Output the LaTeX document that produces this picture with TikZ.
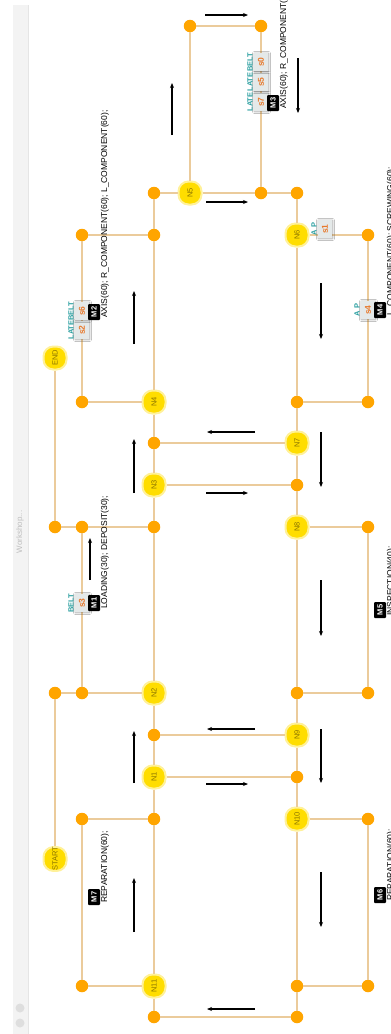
\documentclass[tikz,border=0pt]{standalone}
\usepackage{fontspec}
\setmainfont{Liberation Sans}
\usetikzlibrary{arrows.meta,shadows.blur}
\definecolor{edgetan}{HTML}{EBCB9B}
\definecolor{dotorange}{HTML}{FFA500}
\definecolor{nodeyellow}{HTML}{FFDD00}
\definecolor{nodetext}{HTML}{8A7400}
\definecolor{capteal}{HTML}{2A9FA0}
\definecolor{tagorange}{HTML}{E8792C}
\definecolor{taggray}{HTML}{E4E9E9}
\definecolor{panelgray}{HTML}{F3F3F3}
\newcommand{\machinetag}[5]{%
  \node[mbox] (#1) at (#2+12,#3) {#4};
  \node[optext] (#1-ops) at (#2+23,#3+6) {#5};}
\newcommand{\slottag}[5]{%
  \node[sbox] (#1) at (#2,#3) {#4};
  \node[scap] (#1-cap) at (#2-11,#3) {#5};}
\begin{document}
\begin{tikzpicture}[x=1pt,y=-1pt,
    link/.style={draw=edgetan,line width=1.2pt},
    dot/.style={circle,fill=dotorange,minimum size=12.5pt,inner sep=0pt},
    ynode/.style={rectangle,rounded corners=10pt,minimum size=23pt,inner sep=0pt,
      fill=nodeyellow,draw=nodeyellow!40,line width=2pt,text=nodetext,
      font=\fontsize{7.5}{7.5}\selectfont,rotate=90},
    mbox/.style={rectangle,rounded corners=1pt,fill=black,text=white,
      minimum width=16pt,minimum height=12pt,inner sep=0pt,
      font=\bfseries\fontsize{7.5}{7.5}\selectfont,rotate=90},
    sbox/.style={rectangle,fill=taggray,text=tagorange,minimum width=18pt,
      minimum height=14pt,inner sep=0pt,font=\bfseries\fontsize{8.5}{8.5}\selectfont,
      rotate=90,blur shadow={shadow xshift=0.5pt,shadow yshift=-0.5pt,
      shadow blur radius=2pt,shadow opacity=40}},
    scap/.style={text=capteal,inner sep=0pt,font=\bfseries\fontsize{7.5}{7.5}\selectfont,rotate=90},
    optext/.style={anchor=west,inner sep=0pt,text=black,
      font=\fontsize{8.5}{8.5}\selectfont,rotate=90},
    flow/.style={-{Stealth[length=5pt,width=4pt]},line width=1.1pt}]
  \clip (0,0) rectangle (391,1034);
  \fill[white] (0,0) rectangle (391,1034);
  % side panel
  \fill[panelgray] (13,5) rectangle (28,1034);
  \draw[black!10] (28,5) -- (28,1034);
  \node[rotate=90,text=black!25,font=\fontsize{8}{8}\selectfont] (ws) at (20,532) {Workshop...};
  \fill[black!13] (20,1008) circle (4.5) (20,1023) circle (4.5);
  % junctions
  \foreach \n/\x/\y in {ta/190/26,tb/261/26,ua/154/193,ub/261/193,uc/297/193,%
    va/82/235,vb/154/235,vc/368/235,wa/82/402,wb/297/402,wc/368/402,%
    xa/154/443,xb/297/485,ya/55/527,yb/82/527,yc/154/527,yd/368/527,%
    za/55/693,zb/82/693,zc/297/693,zd/368/693,ka/154/735,kb/297/777,%
    la/82/819,lb/154/819,lc/368/819,ma/82/986,mb/297/986,mc/368/986,%
    na/154/1017,nb/297/1017}
    \node[dot] (\n) at (\x,\y) {};
  \foreach \n/\x/\y/\t in {N1/154/777/N1,N2/154/693/N2,N3/154/485/N3,N4/154/402/N4,%
    N5/190/193/N5,N6/297/235/N6,N7/297/443/N7,N8/297/527/N8,N9/297/735/N9,%
    N10/297/819/N10,N11/154/986/N11,start/55/859/START,end/55/358/END}
    \node[ynode] (\n) at (\x,\y) {\t};
  % tracks
  \draw[link] (ua) -- (vb) -- (N4) -- (xa) -- (N3) -- (yc) -- (N2) -- (ka)
    -- (N1) -- (lb) -- (N11) -- (na);
  \draw[link] (uc) -- (N6) -- (wb) -- (N7) -- (xb) -- (N8) -- (zc) -- (N9)
    -- (kb) -- (N10) -- (mb) -- (nb);
  \draw[link] (ua) -- (N5) -- (ub) -- (uc);
  \foreach \a/\b in {ta/tb,ta/N5,tb/ub,va/vb,N6/vc,wa/N4,wb/wc,xa/N7,N3/xb,%
    ya/yb,yb/yc,N8/yd,za/zb,zb/N2,zc/zd,ka/N9,N1/kb,la/lb,N10/lc,ma/N11,%
    mb/mc,na/nb,va/wa,yb/zb,la/ma,vc/wc,yd/zd,lc/mc,end/ya,start/za}
    \draw[link] (\a) -- (\b);
  % direction arrows
  \foreach \x/\y/\u/\v in {205/15/248/15,172/135/172/83,298/58/298/113,%
    206/202/248/202,134/344/134/291,321/283/321/339,255/432/207/432,%
    206/493/248/493,134/493/134/439,321/432/321/487,90/580/90/538,%
    321/580/321/636,255/729/207/729,134/783/134/731,321/729/321/783,%
    206/784/248/784,134/932/134/878,321/872/321/927,255/1009/207/1009}
    \draw[flow] (\x,\y) -- (\u,\v);
  % stock and machine labels
  \slottag{s7}{261}{102}{s7}{LATE}
  \slottag{s5}{261}{82}{s5}{LATE}
  \slottag{s0}{261}{62}{s0}{BELT}
  \machinetag{m3}{261}{103}{M3}{AXIS(60); R\_COMPONENT(60); L\_COMPONENT(60);}
  \slottag{s2}{82}{330}{s2}{LATE}
  \slottag{s6}{82}{311}{s6}{BELT}
  \machinetag{m2}{82}{312}{M2}{AXIS(60); R\_COMPONENT(60); L\_COMPONENT(60);}
  \slottag{s3}{82}{603}{s3}{BELT}
  \machinetag{m1}{82}{603}{M1}{LOADING(30); DEPOSIT(30);}
  \machinetag{m7}{82}{897}{M7}{REPARATION(60);}
  \slottag{s1}{325}{229}{s1}{A P}
  \slottag{s4}{368}{310}{s4}{A P}
  \machinetag{m4}{368}{310}{M4}{L\_COMPONENT(60); SCREWING(60);}
  \machinetag{m5}{368}{610}{M5}{INSPECTION(40);}
  \machinetag{m6}{368}{895}{M6}{REPARATION(60);}
\end{tikzpicture}
\end{document}
